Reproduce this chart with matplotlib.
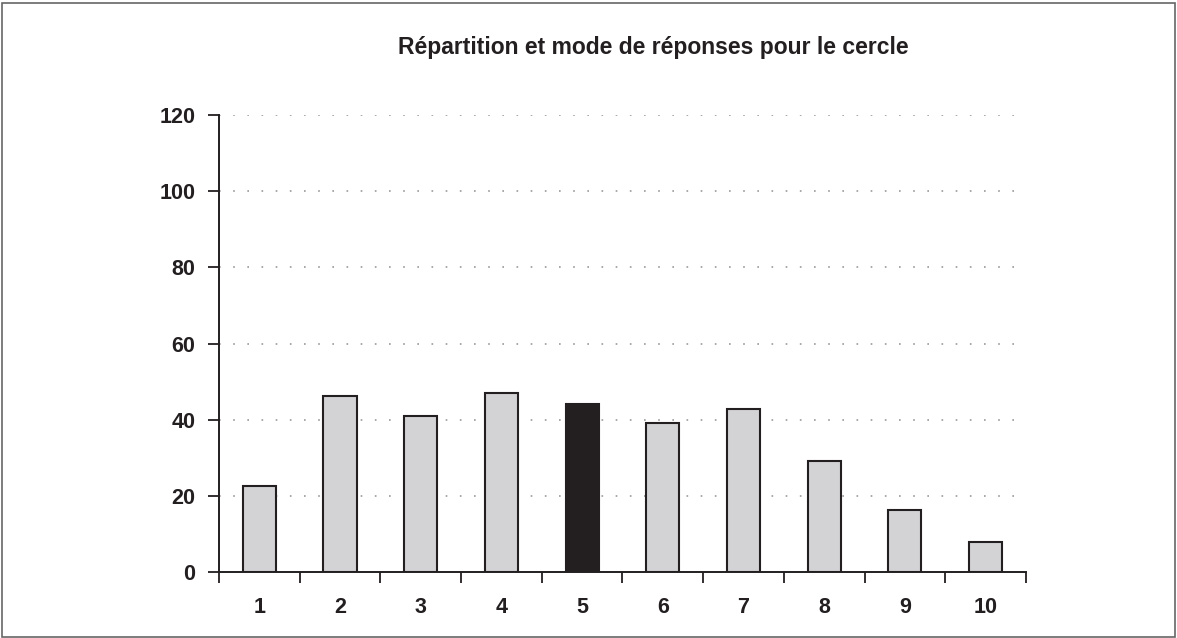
import numpy as np
import matplotlib.pyplot as plt
from matplotlib.patches import Rectangle

plt.rcParams['font.family'] = ['Liberation Sans', 'DejaVu Sans']

categories = ['1', '2', '3', '4', '5', '6', '7', '8', '9', '10']
values = [22.7, 46.3, 40.9, 47.1, 44.0, 39.1, 42.7, 29.1, 16.3, 8.0]
mode_index = 4
title = 'Répartition et mode de réponses pour le cercle'
y_ticks = [0, 20, 40, 60, 80, 100, 120]

fig = plt.figure(figsize=(11.77, 6.38), dpi=100)
ax = fig.add_axes([0.186, 0.1034, 0.6857, 0.7163])

x = np.arange(1, len(categories) + 1)
colors = ['#d3d3d5'] * len(values)
colors[mode_index] = '#231f20'
ax.bar(x, values, width=0.41, color=colors, edgecolor='#231f20', linewidth=1.5, zorder=3)

ax.set_xlim(0.5, len(categories) + 0.5)
ax.set_ylim(0, 120)
ax.set_yticks(y_ticks)
ax.set_yticklabels([str(v) for v in y_ticks], fontsize=15.5, fontweight='bold', color='#231f20')

# ticks on the category boundaries, labels at the centres
ax.set_xticks(np.arange(0.5, len(categories) + 1, 1))
ax.set_xticklabels([])
ax.set_xticks(x, minor=True)
ax.set_xticklabels(categories, minor=True, fontsize=15.5, fontweight='bold', color='#231f20')
ax.tick_params(axis='x', which='major', length=8, width=1.3, color='#231f20')
ax.tick_params(axis='x', which='minor', length=0, pad=18)
ax.tick_params(axis='y', length=8, width=1.3, color='#231f20', pad=9)

for v in y_ticks[1:]:
    ax.axhline(v, color='#9a9a9a', linestyle=(0, (1, 7.5)), linewidth=1.2, zorder=1)

for side in ['top', 'right']:
    ax.spines[side].set_visible(False)
for side in ['left', 'bottom']:
    ax.spines[side].set_linewidth(1.4)
    ax.spines[side].set_color('#231f20')

fig.text(0.555, 0.926, title, ha='center', va='center', fontsize=16.5, fontweight='bold', color='#231f20')

fig.patches.append(Rectangle((0.002, 0.002), 0.996, 0.994, transform=fig.transFigure,
                             fill=False, edgecolor='#666666', linewidth=1.2))

fig.savefig('out.png', dpi=100)
